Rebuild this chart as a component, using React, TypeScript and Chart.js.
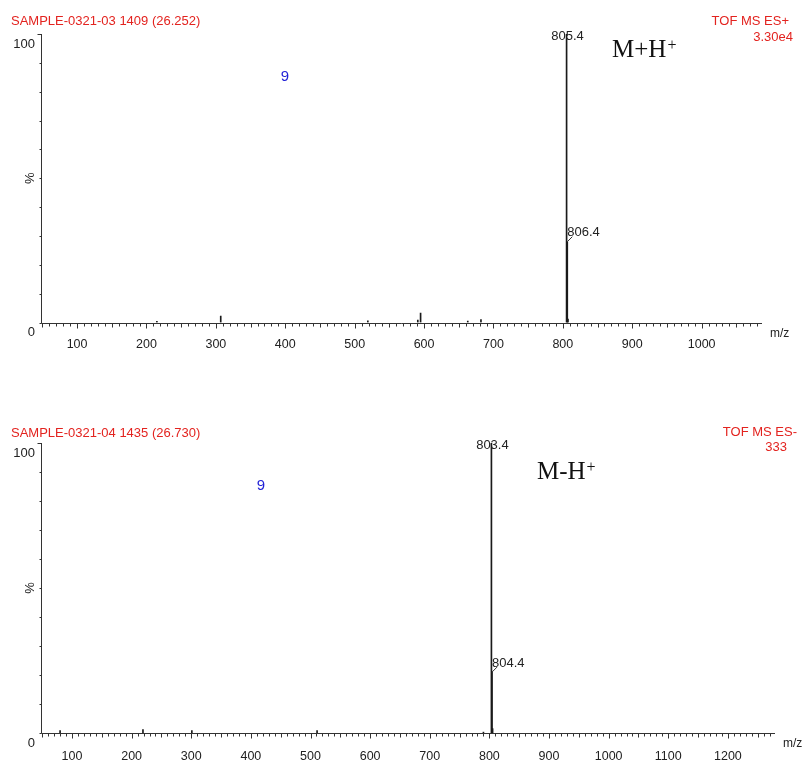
import React, { useEffect, useRef } from 'react';
import { Chart, registerables } from 'chart.js';

Chart.register(...registerables);

// ---------------- data ----------------
const topTitle = 'SAMPLE-0321-03 1409 (26.252)';
const topMode = 'TOF MS ES+';
const topScale = '3.30e4';
const topIon = 'M+H';
const topMz = [215, 307, 519, 591, 595, 663, 682, 805.4, 806.4, 807.4];
const topIntensity = [0.4, 2.2, 0.6, 0.8, 3.3, 0.5, 1.0, 100, 28, 1.2];
const topLabeledPeaks = [805.4, 806.4];
const topXRange = [48, 1087];

const bottomTitle = 'SAMPLE-0321-04 1435 (26.730)';
const bottomMode = 'TOF MS ES-';
const bottomScale = '333';
const bottomIon = 'M-H';
const bottomMz = [80, 219, 301, 511, 790, 803.4, 804.4, 805.4];
const bottomIntensity = [0.8, 1.2, 0.8, 0.8, 0.3, 100, 21, 1.5];
const bottomLabeledPeaks = [803.4, 804.4];
const bottomXRange = [48, 1279];

const compoundLabel = '9';
const xTickStep = 100;
const yRange = [0, 100];

// ---------------- styles ----------------
const SANS = '"Liberation Sans", Arial, Helvetica, sans-serif';
const SERIF = '"Liberation Serif", "Times New Roman", serif';
const RED = '#e3231f';
const BLUE = '#1f1fd6';
const INK = '#222';

type Panel = {
  top: number;
  height: number;
  area: { left: number; top: number; right: number; bottom: number };
  title: string;
  mode: string;
  scale: string;
  ion: string;
  mz: number[];
  intensity: number[];
  labeled: number[];
  xRange: number[];
  titleY: number;
  modeY: number;
  scaleY: number;
  modeRight: number;
  scaleRight: number;
  ionX: number;
  ionBaseline: number;
  nineX: number;
  nineY: number;
  tickPad: number;
};

const W = 805;

const panels: Panel[] = [
  {
    top: 0,
    height: 390,
    area: { left: 41, top: 34, right: 762, bottom: 322.5 },
    title: topTitle,
    mode: topMode,
    scale: topScale,
    ion: topIon,
    mz: topMz,
    intensity: topIntensity,
    labeled: topLabeledPeaks,
    xRange: topXRange,
    titleY: 21,
    modeY: 21,
    scaleY: 37,
    modeRight: 789,
    scaleRight: 793,
    ionX: 612,
    ionBaseline: 57,
    nineX: 285,
    nineY: 77,
    tickPad: 15,
  },
  {
    top: 390,
    height: 372,
    area: { left: 41, top: 53, right: 775, bottom: 343 },
    title: bottomTitle,
    mode: bottomMode,
    scale: bottomScale,
    ion: bottomIon,
    mz: bottomMz,
    intensity: bottomIntensity,
    labeled: bottomLabeledPeaks,
    xRange: bottomXRange,
    titleY: 43,
    modeY: 42,
    scaleY: 57,
    modeRight: 797,
    scaleRight: 787,
    ionX: 537,
    ionBaseline: 89,
    nineX: 261,
    nineY: 96,
    tickPad: 16,
  },
];

function makeOverlay(p: Panel) {
  return {
    id: 'msOverlay',
    afterDraw(chart: any) {
      const ctx: CanvasRenderingContext2D = chart.ctx;
      const xs = chart.scales.x;
      const ys = chart.scales.y;
      const a = chart.chartArea;
      ctx.save();

      // axes
      ctx.strokeStyle = '#333';
      ctx.lineWidth = 1;
      ctx.beginPath();
      const ax = Math.round(a.left) + 0.5;
      const ay = Math.round(a.bottom) + 0.5;
      ctx.moveTo(ax, Math.round(a.top));
      ctx.lineTo(ax, ay);
      ctx.lineTo(Math.round(a.right), ay);
      // y ticks
      for (let v = yRange[0]; v <= yRange[1]; v += 10) {
        const y = Math.round(ys.getPixelForValue(v)) + 0.5;
        const len = v === 100 ? 4 : 2;
        ctx.moveTo(ax - len, y);
        ctx.lineTo(ax, y);
      }
      // x ticks
      const start = Math.ceil(xs.min / 10) * 10;
      for (let v = start; v <= xs.max; v += 10) {
        const x = Math.round(xs.getPixelForValue(v)) + 0.5;
        const len = v % 100 === 0 ? 5 : v % 50 === 0 ? 4 : 3;
        ctx.moveTo(x, ay);
        ctx.lineTo(x, ay + len);
      }
      ctx.stroke();

      // y labels
      ctx.fillStyle = INK;
      ctx.font = `13px ${SANS}`;
      ctx.textAlign = 'right';
      ctx.textBaseline = 'middle';
      ctx.fillText('100', a.left - 6, ys.getPixelForValue(100) + 10);
      ctx.fillText('0', a.left - 6, a.bottom + 10);
      ctx.save();
      ctx.translate(a.left - 11, ys.getPixelForValue(50));
      ctx.rotate(-Math.PI / 2);
      ctx.textAlign = 'center';
      ctx.fillText('%', 0, 0);
      ctx.restore();

      // m/z
      ctx.font = `12px ${SANS}`;
      ctx.textAlign = 'left';
      ctx.fillText('m/z', a.right + 8, a.bottom + 11);

      // peak labels
      p.labeled.forEach((mz, k) => {
        const idx = p.mz.indexOf(mz);
        const px = xs.getPixelForValue(mz);
        const py = ys.getPixelForValue(p.intensity[idx]);
        ctx.fillStyle = INK;
        ctx.font = `13px ${SANS}`;
        if (k === 0) {
          ctx.textAlign = 'center';
          ctx.fillText(mz.toFixed(1), px + 1, py + 2);
        } else {
          ctx.beginPath();
          ctx.moveTo(px, py);
          ctx.lineTo(px + 5, py - 5);
          ctx.stroke();
          ctx.textAlign = 'left';
          ctx.fillText(mz.toFixed(1), px, py - 9);
        }
      });

      // headers
      ctx.fillStyle = RED;
      ctx.font = `13px ${SANS}`;
      ctx.textAlign = 'left';
      ctx.fillText(p.title, 11, p.titleY);
      ctx.textAlign = 'right';
      ctx.fillText(p.mode, p.modeRight, p.modeY);
      ctx.fillText(p.scale, p.scaleRight, p.scaleY);

      // compound number
      ctx.fillStyle = BLUE;
      ctx.font = `15px ${SANS}`;
      ctx.textAlign = 'center';
      ctx.fillText(compoundLabel, p.nineX, p.nineY);

      // ion annotation
      ctx.fillStyle = '#111';
      ctx.textAlign = 'left';
      ctx.textBaseline = 'alphabetic';
      ctx.font = `25px ${SERIF}`;
      ctx.fillText(p.ion, p.ionX, p.ionBaseline);
      const w = ctx.measureText(p.ion).width;
      ctx.font = `16px ${SERIF}`;
      ctx.fillText('+', p.ionX + w + 1, p.ionBaseline - 7);

      ctx.restore();
    },
  };
}

function SpectrumPanel({ p }: { p: Panel }) {
  const ref = useRef<HTMLCanvasElement | null>(null);
  useEffect(() => {
    if (!ref.current) return;
    const chart = new Chart(ref.current, {
      type: 'bar',
      data: {
        datasets: [
          {
            data: p.mz.map((x, i) => ({ x, y: p.intensity[i] })),
            backgroundColor: '#1a1a1a',
            barThickness: 1,
            grouped: false,
          } as any,
        ],
      },
      options: {
        responsive: false,
        animation: false,
        devicePixelRatio: 1,
        layout: {
          padding: { left: 0, top: p.area.top, right: W - p.area.right, bottom: 0 },
        },
        plugins: { legend: { display: false }, tooltip: { enabled: false }, title: { display: false } },
        scales: {
          x: {
            type: 'linear',
            offset: false,
            min: p.xRange[0],
            max: p.xRange[1],
            grid: { display: false, drawTicks: false, offset: false },
            border: { display: false },
            ticks: {
              stepSize: xTickStep,
              includeBounds: false,
              autoSkip: false,
              maxRotation: 0,
              padding: p.tickPad,
              color: INK,
              font: { family: SANS, size: 12.5 },
              callback: (v: any) => String(v),
            },
            afterFit: (s: any) => {
              s.height = p.height - p.area.bottom;
            },
          },
          y: {
            min: yRange[0],
            max: yRange[1],
            grid: { display: false, drawTicks: false },
            border: { display: false },
            ticks: { display: false },
            afterFit: (s: any) => {
              s.width = p.area.left;
            },
          },
        },
      } as any,
      plugins: [makeOverlay(p)],
    });
    return () => chart.destroy();
  }, [p]);
  return (
    <canvas
      ref={ref}
      width={W}
      height={p.height}
      style={{ position: 'absolute', left: 0, top: p.top, width: W, height: p.height }}
    />
  );
}

export default function App() {
  return (
    <div style={{ position: 'absolute', left: 0, top: 0, width: W, height: 762, background: '#fff' }}>
      {panels.map((p, i) => (
        <SpectrumPanel key={i} p={p} />
      ))}
    </div>
  );
}
